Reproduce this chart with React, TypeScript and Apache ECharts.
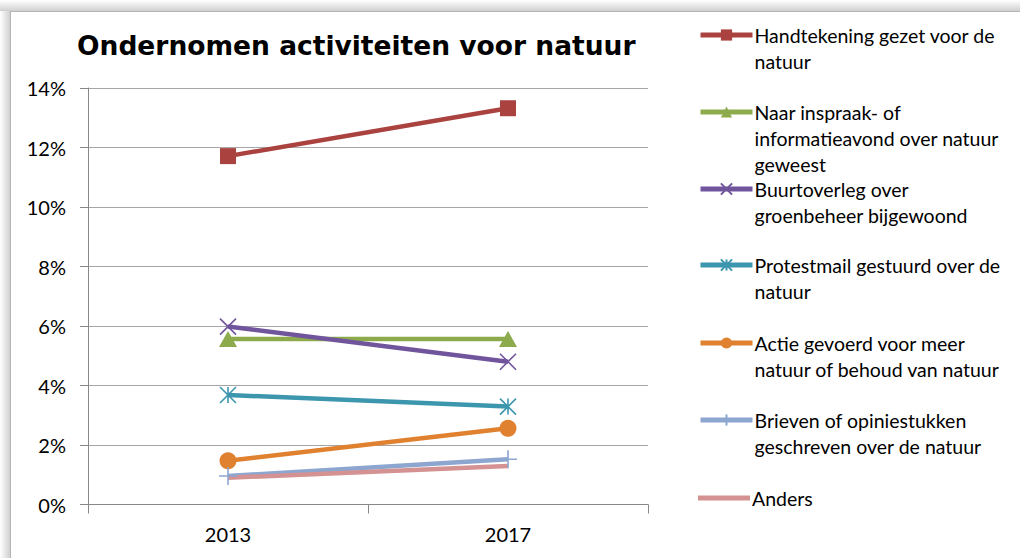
import React, { useEffect, useRef } from "react";
import * as echarts from "echarts";

const categories = ["2013", "2017"];
const seriesNames = [
  "Handtekening gezet voor de natuur",
  "Naar inspraak- of informatieavond over natuur geweest",
  "Buurtoverleg over groenbeheer bijgewoond",
  "Protestmail gestuurd over de natuur",
  "Actie gevoerd voor meer natuur of behoud van natuur",
  "Brieven of opiniestukken geschreven over de natuur",
  "Anders",
];
const legendLines = [
  ["Handtekening gezet voor de", "natuur"],
  ["Naar inspraak- of", "informatieavond over natuur", "geweest"],
  ["Buurtoverleg over", "groenbeheer bijgewoond"],
  ["Protestmail gestuurd over de", "natuur"],
  ["Actie gevoerd voor meer", "natuur of behoud van natuur"],
  ["Brieven of opiniestukken", "geschreven over de natuur"],
  ["Anders"],
];
const handtekening = [11.71, 13.32];
const inspraak = [5.56, 5.56];
const buurtoverleg = [5.98, 4.8];
const protestmail = [3.68, 3.29];
const actie = [1.47, 2.56];
const brieven = [0.96, 1.52];
const anders = [0.9, 1.29];
const seriesValues = [handtekening, inspraak, buurtoverleg, protestmail, actie, brieven, anders];
const yTicks = [0, 2, 4, 6, 8, 10, 12, 14];

const colors = ["#AA423F", "#8DAB4C", "#70559C", "#3C96AE", "#E0812F", "#8DA6CF", "#D49292"];
const symbols = [
  "rect",
  "triangle",
  "path://M0,0L10,10M10,0L0,10",
  "path://M0,0L10,10M10,0L0,10M5,0L5,10",
  "circle",
  "path://M5,0L5,10M0,5L10,5",
  "none",
];
const symbolSizes: any[] = [16, [18, 16], 16, 16, 17, 18, 0];
const strokeSymbol = [false, false, true, true, false, true, false];
const legendFirstLineY = [35, 112, 189, 265, 343, 420, 498];

const FONT = "Lato";
const LH = 26;

export default function App() {
  const ref = useRef<HTMLDivElement>(null);
  useEffect(() => {
    if (!ref.current) return;
    const chart = echarts.init(ref.current, null, { renderer: "svg" });
    const legends = seriesNames.map((name, i) => {
      const lines = legendLines[i];
      const n = lines.length;
      const blanks = new Array(n - 1).fill("").join("\n");
      const text = (n > 1 ? blanks + "\n" : "") + lines.join("\n");
      const noMarker = symbols[i] === "none";
      const ih = noMarker ? 5 : 14;
      return {
        data: [name],
        orient: "vertical",
        left: 698,
        top: legendFirstLineY[i] - ih / 2 - Math.max(0, (n - 0.5) * LH - ih / 2) + (noMarker ? 0 : 0),
        padding: 0,
        itemWidth: 52,
        itemHeight: ih,
        itemGap: 0,
        selectedMode: false,
        icon: noMarker ? "rect" : undefined,
        lineStyle: { width: 5 },
        formatter: () => text,
        textStyle: { fontFamily: FONT, fontSize: 19.5, color: "#000", lineHeight: LH, padding: [0, 0, 0, -3] },
      };
    });
    const series = seriesNames.map((name, i) => ({
      name,
      type: "line",
      data: seriesValues[i],
      symbol: symbols[i],
      symbolSize: symbolSizes[i],
      showSymbol: symbols[i] !== "none",
      lineStyle: { width: 4.5, color: colors[i] },
      itemStyle: strokeSymbol[i]
        ? { color: colors[i], borderColor: colors[i], borderWidth: 1.6 }
        : { color: colors[i] },
      emphasis: { disabled: true },
    }));
    chart.setOption({
      animation: false,
      backgroundColor: "#ffffff",
      title: {
        text: "Ondernomen activiteiten voor natuur",
        left: 72,
        top: 27,
        textStyle: { fontFamily: "DejaVu Sans", fontWeight: "bold", fontSize: 26.5, color: "#000" },
      },
      graphic: [
        {
          type: "rect",
          z: -10,
          shape: { x: 0, y: 0, width: 1020, height: 11 },
          style: {
            fill: new echarts.graphic.LinearGradient(0, 0, 0, 1, [
              { offset: 0, color: "#ffffff" },
              { offset: 1, color: "#d0d0d0" },
            ]),
          },
        },
        {
          type: "rect",
          z: -10,
          shape: { x: 0, y: 11, width: 10, height: 547 },
          style: {
            fill: new echarts.graphic.LinearGradient(0, 0, 1, 0, [
              { offset: 0, color: "#ffffff" },
              { offset: 1, color: "#d0d0d0" },
            ]),
          },
        },
        { type: "line", shape: { x1: 10, y1: 11.5, x2: 1020, y2: 11.5 }, style: { stroke: "#b4b4b4", lineWidth: 1 } },
        { type: "line", shape: { x1: 10.5, y1: 11, x2: 10.5, y2: 558 }, style: { stroke: "#b4b4b4", lineWidth: 1 } },
      ],
      legend: legends,
      grid: { left: 88, right: 372, top: 88, bottom: 53.5, containLabel: false },
      xAxis: {
        type: "category",
        data: categories,
        boundaryGap: true,
        axisLine: { lineStyle: { color: "#888", width: 1 } },
        axisTick: { show: true, length: 9, alignWithLabel: false, lineStyle: { color: "#888" } },
        axisLabel: { fontFamily: FONT, fontSize: 20, color: "#000", margin: 19 },
      },
      yAxis: {
        type: "value",
        min: 0,
        max: 14,
        interval: 2,
        axisLine: { show: true, lineStyle: { color: "#888", width: 1 } },
        axisTick: { show: true, length: 8, lineStyle: { color: "#888" } },
        splitLine: { lineStyle: { color: "#a6a6a6", width: 1 } },
        axisLabel: {
          fontFamily: FONT,
          fontSize: 20,
          color: "#000",
          margin: 22,
          formatter: (v: number) => (yTicks.includes(v) ? `${v}%` : ""),
        },
      },
      series,
    });
    return () => chart.dispose();
  }, []);
  return <div ref={ref} style={{ position: "fixed", left: 0, top: 0, width: 1020, height: 558 }} />;
}
